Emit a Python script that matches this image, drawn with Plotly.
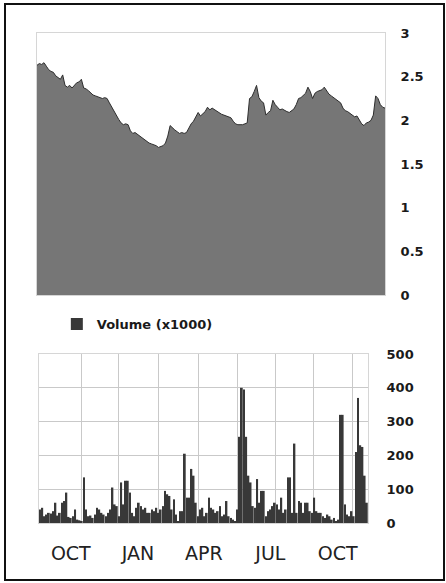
import pandas as pd
import plotly.graph_objects as go

# Sampling dates (every third calendar day)
dates = pd.date_range("2012-08-20", periods=150, freq="3D")

# Closing price
price = [
    2.63, 2.65, 2.64, 2.66, 2.62, 2.58, 2.56, 2.55, 2.51, 2.49,
    2.47, 2.52, 2.40, 2.38, 2.40, 2.37, 2.40, 2.43, 2.44, 2.47,
    2.37, 2.36, 2.34, 2.31, 2.29, 2.28, 2.27, 2.26, 2.25, 2.26,
    2.25, 2.20, 2.15, 2.10, 2.05, 2.01, 1.97, 1.95, 1.96, 1.95,
    1.88, 1.85, 1.86, 1.84, 1.82, 1.79, 1.77, 1.75, 1.74, 1.73,
    1.72, 1.71, 1.69, 1.70, 1.71, 1.74, 1.82, 1.94, 1.91, 1.89,
    1.87, 1.85, 1.86, 1.85, 1.86, 1.92, 1.96, 1.99, 2.04, 2.09,
    2.05, 2.07, 2.10, 2.15, 2.12, 2.14, 2.12, 2.11, 2.08, 2.07,
    2.06, 2.05, 2.04, 2.03, 1.99, 1.96, 1.95, 1.95, 1.95, 1.96,
    1.97, 2.25, 2.27, 2.33, 2.40, 2.26, 2.22, 2.20, 2.06, 2.09,
    2.11, 2.23, 2.18, 2.15, 2.12, 2.13, 2.11, 2.10, 2.09, 2.11,
    2.13, 2.18, 2.25, 2.26, 2.29, 2.31, 2.38, 2.33, 2.25, 2.31,
    2.33, 2.34, 2.35, 2.38, 2.34, 2.30, 2.28, 2.26, 2.25, 2.22,
    2.20, 2.14, 2.11, 2.10, 2.08, 2.06, 2.04, 2.05, 2.00, 1.96,
    1.94, 1.97, 1.98, 2.00, 2.06, 2.28, 2.25, 2.18, 2.15, 2.14,
]

# Traded volume (thousands)
volume = [
    40, 45, 20, 25, 30, 28, 35, 60, 22, 30,
    60, 65, 90, 18, 15, 20, 40, 10, 8, 5,
    135, 40, 20, 22, 15, 25, 45, 40, 30, 25,
    20, 30, 40, 105, 55, 50, 20, 120, 55, 125,
    125, 90, 30, 20, 45, 60, 50, 40, 45, 30,
    30, 40, 35, 45, 30, 40, 50, 95, 85, 80,
    40, 70, 25, 5, 35, 35, 205, 75, 75, 160,
    140, 60, 20, 40, 45, 20, 30, 75, 45, 40,
    30, 35, 50, 20, 25, 65, 20, 15, 10, 5,
    40, 255, 400, 395, 255, 140, 120, 50, 45, 130,
    60, 95, 95, 20, 35, 40, 50, 60, 55, 40,
    75, 30, 40, 135, 135, 30, 235, 30, 65, 60,
    30, 60, 60, 35, 30, 75, 35, 30, 30, 20,
    15, 25, 20, 10, 15, 5, 10, 320, 320, 55,
    25, 20, 35, 20, 210, 370, 230, 225, 140, 60,
]

month_ticks = ["2012-10-01", "2013-01-01", "2013-04-01", "2013-07-01", "2013-10-01"]
month_labels = ["OCT", "JAN", "APR", "JUL", "OCT"]
grid_dates = ["2012-10-15", "2012-12-05", "2013-01-29", "2013-03-25",
              "2013-05-17", "2013-07-08", "2013-08-29", "2013-10-22"]

LINE = "#d6d6d6"
GRID = "#c9c9c9"
INK = "#1a1a1a"
tick_font = dict(family="DejaVu Sans", size=13, color=INK, weight="bold")

fig = go.Figure()

fig.add_trace(go.Scatter(
    x=dates, y=price, mode="lines", fill="tozeroy",
    fillcolor="#767676", line=dict(color="#2e2e2e", width=1),
    xaxis="x", yaxis="y", showlegend=False, hoverinfo="skip",
))

fig.add_trace(go.Bar(
    x=dates, y=volume, name="Volume (x1000)",
    marker=dict(color="#383838", line=dict(width=0)),
    xaxis="x2", yaxis="y2", showlegend=True,
))

half_bar = pd.Timedelta(hours=36)

fig.update_layout(
    width=446, height=583,
    margin=dict(l=37, r=61, t=33, b=60),
    paper_bgcolor="white", plot_bgcolor="white",
    bargap=0.2,
    xaxis=dict(
        domain=[0, 1], anchor="y",
        range=[dates[0], dates[-1]],
        showticklabels=False, showgrid=False, zeroline=False,
        showline=True, mirror=True, linecolor=LINE, linewidth=1, ticks="",
    ),
    yaxis=dict(
        domain=[0.4653, 1.0], anchor="x", side="right",
        range=[0, 3], tickmode="linear", tick0=0, dtick=0.5,
        showgrid=False, zeroline=False,
        showline=True, mirror=True, linecolor=LINE, linewidth=1,
        ticks="outside", ticklen=12, tickcolor="rgba(0,0,0,0)",
        tickfont=tick_font,
    ),
    xaxis2=dict(
        domain=[0.0057, 0.951], anchor="y2",
        range=[dates[0] - half_bar, dates[-1] + half_bar],
        tickmode="array", tickvals=month_ticks, ticktext=month_labels,
        showgrid=False, zeroline=False,
        showline=True, mirror=True, linecolor=LINE, linewidth=1,
        ticks="outside", ticklen=13, tickcolor="rgba(0,0,0,0)",
        tickfont=dict(family="DejaVu Sans", size=19, color="#222222"),
        minor=dict(tickmode="array", tickvals=grid_dates,
                   showgrid=True, gridcolor=GRID, gridwidth=1, ticks=""),
    ),
    yaxis2=dict(
        domain=[0, 0.3449], anchor="x2", side="right",
        range=[0, 500], tickmode="linear", tick0=0, dtick=100,
        showgrid=True, gridcolor=GRID, gridwidth=1, zeroline=False,
        showline=True, mirror=True, linecolor=LINE, linewidth=1,
        ticks="outside", ticklen=15, tickcolor="rgba(0,0,0,0)",
        tickfont=tick_font,
    ),
    legend=dict(
        x=0.057, y=0.406, xanchor="left", yanchor="middle",
        itemwidth=30,
        font=dict(family="DejaVu Sans", size=13, color=INK, weight="bold"),
        bgcolor="rgba(0,0,0,0)",
    ),
    shapes=[
        # outer frame
        dict(type="rect", xref="paper", yref="paper", layer="above",
             x0=(5 - 37) / 348, x1=(444 - 37) / 348,
             y0=(523 - 580) / 490, y1=(523 - 4) / 490,
             fillcolor="rgba(0,0,0,0)", line=dict(color="#111111", width=2)),
    ],
)

fig.write_html("out.html")
